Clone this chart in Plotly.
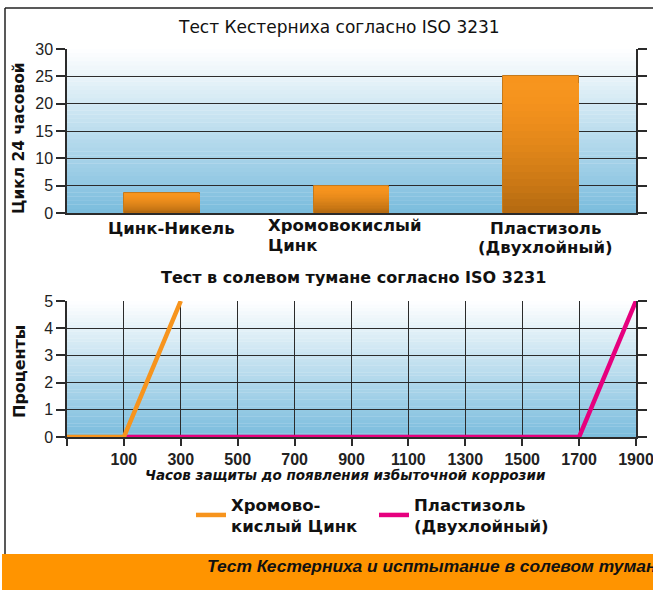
import plotly.graph_objects as go

# ---------------- data ----------------
categories = ["Цинк-Никель", "Хромовокислый Цинк", "Пластизоль (Двухлойный)"]
kesternich_cycles = [3.7, 5.0, 25.0]
kesternich_ticks = [0, 5, 10, 15, 20, 25, 30]

salt_hours_ticks = [-100, 100, 300, 500, 700, 900, 1100, 1300, 1500, 1700, 1900]
salt_hours_labels = ["", "100", "300", "500", "700", "900", "1100", "1300", "1500", "1700", "1900"]
percent_ticks = [0, 1, 2, 3, 4, 5]

chromate_hours = [-100, 100, 300]
chromate_percent = [0, 0, 5]
plastisol_hours = [100, 1700, 1900]
plastisol_percent = [0, 0, 5]

# ---------------- style ----------------
NUM_FONT = "Liberation Sans, Arial, Helvetica, sans-serif"
TXT_FONT = "DejaVu Sans, Verdana, sans-serif"
ORANGE = "#f7941d"
PINK = "#e6007e"
GRID = "#2b2b2b"
INK = "#111"
W, H = 653, 590
ML, MR, MT, MB = 67, 17, 49, 153
PW = W - ML - MR
PH = H - MT - MB


def px(x):
    return (x - ML) / PW


def py(y):
    return (H - MB - y) / PH


def lerp(c1, c2, t):
    return "rgb(%d,%d,%d)" % tuple(round(a + (b - a) * t) for a, b in zip(c1, c2))


fig = go.Figure()

# bars with a stepped vertical gradient (lighter at top, darker at bottom)
N_STEPS = 20
bar_top = (248, 149, 30)
bar_bottom = (176, 103, 16)
fig.add_trace(go.Bar(
    x=categories, y=kesternich_cycles, width=0.4,
    marker=dict(color=ORANGE, line=dict(color="#c57a1c", width=1)),
    showlegend=False, hoverinfo="skip", xaxis="x", yaxis="y"))
for k in range(1, N_STEPS):
    frac = 1 - k / N_STEPS
    t = (k / N_STEPS) ** 1.6
    fig.add_trace(go.Bar(
        x=categories, y=[v * frac for v in kesternich_cycles], width=0.4,
        marker=dict(color=lerp(bar_top, bar_bottom, t), line=dict(width=0)),
        showlegend=False, hoverinfo="skip", xaxis="x", yaxis="y"))

# lines
fig.add_trace(go.Scatter(
    x=plastisol_hours, y=plastisol_percent, mode="lines",
    name="Пластизоль<br>(Двухлойный)",
    line=dict(color=PINK, width=4.5), xaxis="x2", yaxis="y2",
    legendrank=2, hoverinfo="skip"))
fig.add_trace(go.Scatter(
    x=chromate_hours, y=chromate_percent, mode="lines",
    name="Хромово-<br>кислый Цинк",
    line=dict(color=ORANGE, width=4.5), xaxis="x2", yaxis="y2",
    legendrank=1, hoverinfo="skip"))

# gradient plot backgrounds
shapes = []
bg_top = (255, 255, 255)
bg_bottom = (122, 188, 221)
NB = 40
for xr, yr in (("x domain", "y domain"), ("x2 domain", "y2 domain")):
    for i in range(NB):
        shapes.append(dict(
            type="rect", xref=xr, yref=yr, x0=0, x1=1,
            y0=i / NB, y1=(i + 1) / NB + 0.002,
            fillcolor=lerp(bg_bottom, bg_top, (i + 0.5) / NB),
            line=dict(width=0), layer="below"))

# outer frame and bottom banner
shapes.append(dict(type="line", xref="paper", yref="paper",
                   x0=px(5), x1=px(660), y0=py(8), y1=py(8),
                   line=dict(color="#222", width=1.5)))
shapes.append(dict(type="line", xref="paper", yref="paper",
                   x0=px(5), x1=px(5), y0=py(8), y1=py(554),
                   line=dict(color="#222", width=1.5)))
shapes.append(dict(type="rect", xref="paper", yref="paper",
                   x0=px(2), x1=px(660), y0=py(554), y1=py(595),
                   fillcolor="#ff9400", line=dict(width=0)))


def txt(size, bold=False):
    return dict(family=TXT_FONT, size=size, color=INK, weight="bold" if bold else "normal")


annotations = [
    dict(text="Тест Кестерниха согласно ISO 3231", x=px(339), y=py(27), font=txt(17)),
    dict(text="Тест в солевом тумане согласно ISO 3231", x=px(353), y=py(277),
         font=txt(16, True)),
    dict(text="Цикл 24 часовой", x=px(19), y=py(138), textangle=-90, font=txt(15.5, True)),
    dict(text="Проценты", x=px(19), y=py(372), textangle=-90, font=txt(16, True)),
    dict(text="Цинк-Никель", x=px(171), y=py(228), font=txt(16.5, True)),
    dict(text="Хромовокислый", x=px(266), y=py(225), xanchor="left", font=txt(16.5, True)),
    dict(text="Цинк", x=px(266), y=py(245), xanchor="left", font=txt(16.5, True)),
    dict(text="Пластизоль", x=px(545), y=py(228), font=txt(16.5, True)),
    dict(text="(Двухлойный)", x=px(545), y=py(248), font=txt(16.5, True)),
    dict(text="<i>Часов защиты до появления избыточной коррозии</i>",
         x=px(345), y=py(475), font=txt(13.5, True)),
    dict(text="<b><i>Тест Кестерниха и исптытание в солевом тумане</i></b>",
         x=px(205), y=py(566), xanchor="left",
         font=dict(family=NUM_FONT, size=17.4, color=INK)),
]
for a in annotations:
    a.setdefault("xref", "paper")
    a.setdefault("yref", "paper")
    a.setdefault("showarrow", False)
    a.setdefault("xanchor", "center")
    a.setdefault("yanchor", "middle")

axis_common = dict(showline=True, linecolor=GRID, linewidth=1.5, ticks="outside",
                   tickcolor=GRID, tickwidth=1.5, zeroline=False, automargin=False,
                   ticklabeloverflow="allow",
                   tickfont=dict(family=NUM_FONT, size=16, color="#222"))

fig.update_layout(
    width=W, height=H, autosize=False,
    margin=dict(l=ML, r=MR, t=MT, b=MB, autoexpand=False),
    paper_bgcolor="white", plot_bgcolor="white",
    barmode="overlay", bargap=0,
    font=dict(family=TXT_FONT, color=INK),
    shapes=shapes, annotations=annotations,
    xaxis=dict(domain=[0, 1], anchor="y", type="category", range=[-0.5, 2.5],
               showticklabels=False, showline=True, linecolor=GRID, linewidth=1.5,
               ticks="", showgrid=False, zeroline=False, fixedrange=True),
    yaxis=dict(domain=[py(213), 1], anchor="x", range=[0, 30], tickvals=kesternich_ticks,
               showgrid=True, gridcolor=GRID, gridwidth=1.3, mirror="ticks", ticklen=9,
               **axis_common),
    xaxis2=dict(domain=[0, 1], anchor="y2", range=[-100, 1900], tickvals=salt_hours_ticks,
                ticktext=["<b>%s</b>" % s if s else "" for s in salt_hours_labels],
                showgrid=True, gridcolor=GRID, gridwidth=1.3, ticklen=7,
                **axis_common),
    yaxis2=dict(domain=[0, py(301)], anchor="x2", range=[0, 5], tickvals=percent_ticks,
                showgrid=True, gridcolor=GRID, gridwidth=1.3, mirror="ticks", ticklen=9,
                **axis_common),
    legend=dict(orientation="h", x=px(191), y=py(487), xanchor="left", yanchor="top",
                font=txt(16.5, True),
                bgcolor="rgba(0,0,0,0)", traceorder="normal",
                entrywidth=138, entrywidthmode="pixels", itemwidth=30,
                valign="middle"),
    showlegend=True,
)

fig.write_html("out.html", config={"displayModeBar": False},
               post_script="document.body.style.margin='0';document.body.style.overflow='hidden';")
